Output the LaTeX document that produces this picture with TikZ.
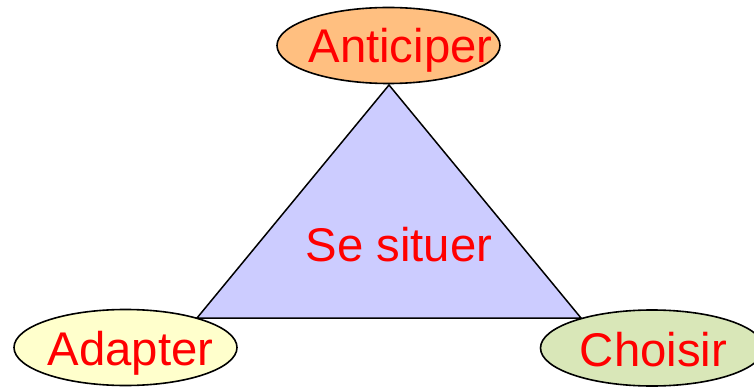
\documentclass[tikz,border=0pt]{standalone}
\usepackage{fontspec}
\setmainfont{Liberation Sans}
\usetikzlibrary{shapes.geometric}
\definecolor{trifill}{HTML}{CCCCFF}
\definecolor{antfill}{HTML}{FFBF80}
\definecolor{adafill}{HTML}{FFFFCC}
\definecolor{chofill}{HTML}{D9E7B8}
\definecolor{txtred}{HTML}{FF0000}
\tikzset{
  bubble/.style={ellipse, draw=black, line width=1.6pt, inner sep=0pt, minimum width=223pt, minimum height=76pt},
  label/.style={text=txtred, font=\fontsize{47.3}{56}\selectfont, anchor=base, inner sep=0pt},
  tri/.style={draw=black, line width=1.5pt, fill=trifill, line join=miter}
}
\begin{document}
\begin{tikzpicture}[x=1pt,y=-1pt]
\useasboundingbox (0,0) rectangle (754,387);
\coordinate (top) at (389,85);
\coordinate (bl) at (197,318);
\coordinate (br) at (581,318);
\draw[tri] (top) -- (br) -- (bl) -- cycle;
\node[bubble, fill=antfill] (ant) at (388.5,45.5) {};
\node[bubble, fill=adafill] (ada) at (125.5,347.5) {};
\node[bubble, fill=chofill] (cho) at (652,348) {};
\node[label] (tant) at (400.5,63) {Anticiper};
\node[label] (tada) at (130.5,365) {Adapter};
\node[label] (tcho) at (653.5,366) {Choisir};
\node[label] (tse) at (399,261) {Se situer};
\end{tikzpicture}
\end{document}
